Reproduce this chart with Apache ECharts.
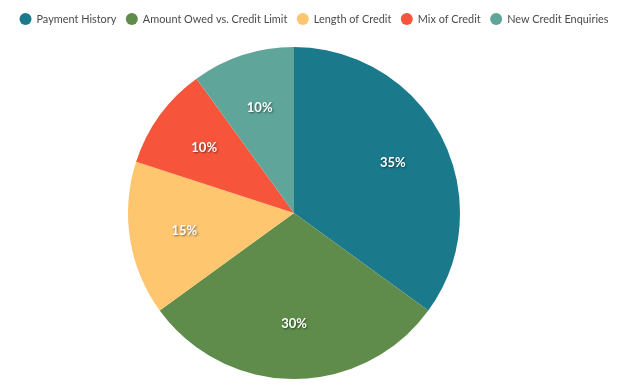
<!DOCTYPE html>
<html><head><meta charset="utf-8">
<script src="https://cdn.jsdelivr.net/npm/echarts@6/dist/echarts.min.js"></script>
<style>html,body{margin:0;padding:0;background:#fff}#c{width:628px;height:390px}</style>
</head><body><div id="c"></div>
<script>
const categories = ["Payment History", "Amount Owed vs. Credit Limit", "Length of Credit", "Mix of Credit", "New Credit Enquiries"];
const values = [35, 30, 15, 10, 10];
const colors = ["#1b798c", "#5f8c4a", "#fec66f", "#f7553b", "#5fa59a"];

const data = categories.map((n, i) => ({ name: n, value: values[i] }));
const chart = echarts.init(document.getElementById('c'));
chart.setOption({
  color: colors,
  animation: false,
  legend: {
    top: 13, left: 'center', width: 628, padding: 0,
    icon: 'circle', itemWidth: 12, itemHeight: 12, itemGap: 9.5,
    textStyle: { color: '#4a4a4a', fontSize: 10.9, fontFamily: 'Lato' },
    data: categories
  },
  series: [{
    type: 'pie', center: [294, 213], radius: 166,
    data: data, label: { show: false }, labelLine: { show: false },
    itemStyle: { borderWidth: 0 }, emphasis: { disabled: true }
  }, {
    type: 'pie', center: [294, 213], radius: [50, 166], silent: true,
    data: data,
    itemStyle: { color: 'rgba(0,0,0,0)', borderWidth: 0 },
    label: {
      show: true, position: 'inside', formatter: p => p.value + '%',
      color: '#fff', fontSize: 13, fontWeight: 'bold', fontFamily: 'Lato',
      textShadowColor: 'rgba(0,0,0,0.5)', textShadowBlur: 2, textShadowOffsetX: 1, textShadowOffsetY: 1
    },
    labelLine: { show: false }, emphasis: { disabled: true }
  }]
});
</script></body></html>
